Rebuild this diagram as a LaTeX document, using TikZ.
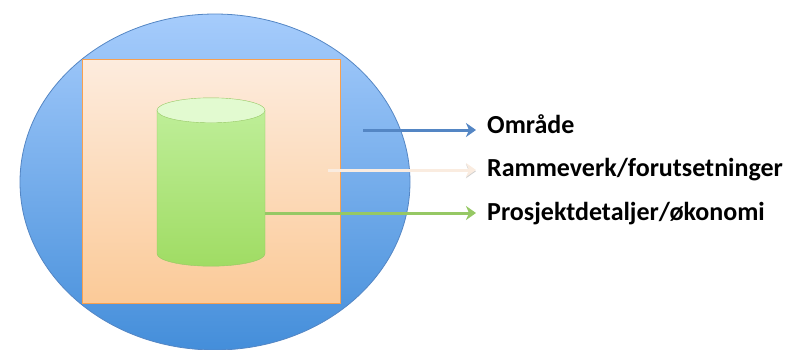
\documentclass[tikz,border=0pt]{standalone}
\usepackage{fontspec}
\setmainfont{Carlito}
\usepackage{tikz}
\usetikzlibrary{shapes,arrows.meta,positioning,calc}
\definecolor{ovaltop}{RGB}{166,204,252}
\definecolor{ovalbottom}{RGB}{68,142,218}
\definecolor{ovalline}{RGB}{84,134,196}
\definecolor{boxtop}{RGB}{253,236,222}
\definecolor{boxbottom}{RGB}{251,202,152}
\definecolor{boxline}{RGB}{247,160,80}
\definecolor{drumtop}{RGB}{190,238,152}
\definecolor{drumbottom}{RGB}{160,220,100}
\definecolor{drumend}{RGB}{226,250,208}
\definecolor{drumline}{RGB}{150,200,100}
\definecolor{peach}{RGB}{250,236,224}

\begin{document}
\begin{tikzpicture}[
    x=1pt, y=-1pt,
    oval/.style={ellipse, draw=ovalline, thick, top color=ovaltop, bottom color=ovalbottom, inner sep=0pt},
    frame/.style={rectangle, draw=boxline, thick, top color=boxtop, bottom color=boxbottom, inner sep=0pt},
    drumbody/.style={draw=drumline, thin, top color=drumtop, bottom color=drumbottom},
    drumcap/.style={draw=drumline, thin, fill=drumend},
    label/.style={anchor=base west, inner sep=0pt, font=\fontsize{26}{30}\selectfont\bfseries},
    arrow/.style={-{Stealth[length=10pt, width=14pt, inset=3pt]}, line width=3pt, shorten >=11pt},
    shadowed/.style={preaction={draw=black!18, transform canvas={yshift=-1.2pt}}}
]
\useasboundingbox (0,0) rectangle (787,349);

% Outer area
\node[oval, minimum width=390pt, minimum height=336pt] (omrade) at (215,182) {};

% Frame
\node[frame, minimum width=258pt, minimum height=244pt] (ramme) at (211,181) {};

% Project (cylinder)
\node[inner sep=0pt, minimum width=108pt, minimum height=168pt] (prosjekt) at (211,182) {};
\coordinate (ptop) at ($(prosjekt.north)+(0,12.5)$);
\coordinate (pbot) at ($(prosjekt.south)-(0,12.5)$);
\path[drumbody] ($(ptop)+(-54,0)$) -- ($(pbot)+(-54,0)$)
    arc[start angle=180, end angle=360, x radius=54pt, y radius=12.5pt]
    -- ($(ptop)+(54,0)$) -- cycle;
\path[drumcap] (ptop) ellipse[x radius=54pt, y radius=12.5pt];

% Labels
\node[label] (lomrade) at (487,133) {Område};
\node[label] (lramme) at (487,176) {Rammeverk/forutsetninger};
\node[label] (lprosjekt) at (487,220) {Prosjektdetaljer/økonomi};

% Start points
\coordinate (somrade) at (363,130);
\coordinate (sramme) at (328,170);
\coordinate (sprosjekt) at (prosjekt.east |- 0,213);

% Arrows
\draw[arrow, color=ovalline] (somrade) -- (somrade -| lomrade.west);
\draw[arrow, shadowed, color=peach] (sramme) -- (sramme -| lramme.west);
\draw[arrow, color=drumline] (sprosjekt) -- (sprosjekt -| lprosjekt.west);

\end{tikzpicture}
\end{document}
